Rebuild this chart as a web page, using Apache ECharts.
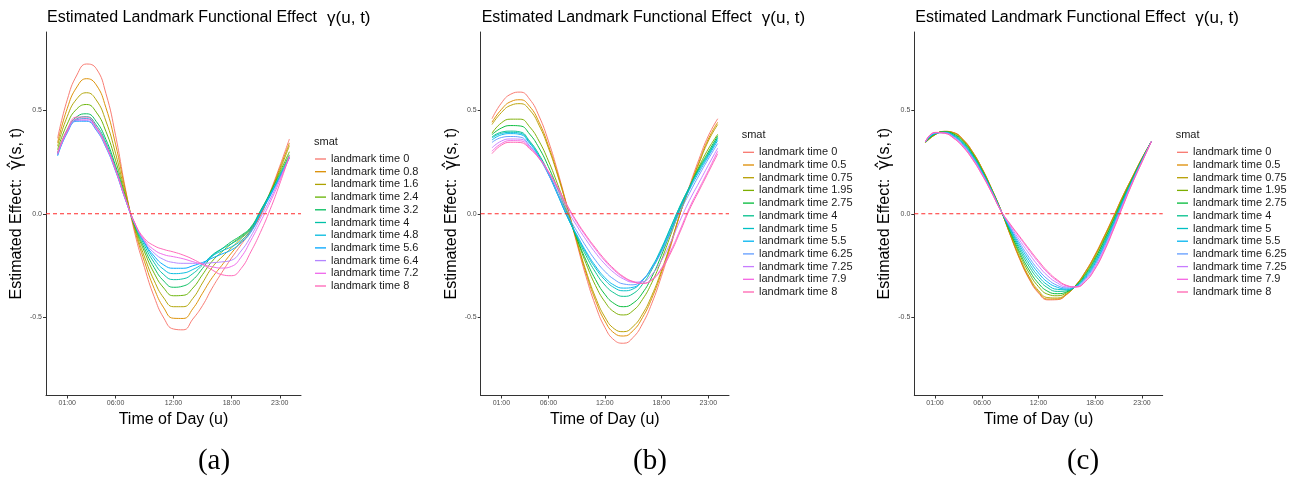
<!DOCTYPE html>
<html>
<head>
<meta charset="utf-8">
<script src="https://cdn.jsdelivr.net/npm/echarts@6/dist/echarts.min.js"></script>
<style>
html,body{margin:0;padding:0;background:#fff;}
#chart{width:1292px;height:479px;}
</style>
</head>
<body>
<div id="chart"></div>
<script>
// ---------- data ----------
const hours = [0,1,2,3,4,5,6,7,8,9,10,11,12,13,14,15,16,17,18,19,20,21,22,23,24];
const xTickValues = [1,6,12,18,23];
const xTickLabels = ['01:00','06:00','12:00','18:00','23:00'];
const yTickValues = [-0.5,0,0.5];
const yTickLabels = ['-0.5','0.0','0.5'];
const referenceLevel = 0;

const landmarksA = ['0','0.8','1.6','2.4','3.2','4','4.8','5.6','6.4','7.2','8'];
const landmarksBC = ['0','0.5','0.75','1.95','2.75','4','5','5.5','6.25','7.25','7.9','8'];

const colorsA = ['#F8766D','#DB8E00','#AEA200','#64B200','#00BD5C','#00C1A7','#00BADE','#00A6FF','#B385FF','#EF67EB','#FF63B6'];
const colorsBC = ['#F8766D','#DE8C00','#B79F00','#7CAE00','#00BA38','#00C08B','#00BFC4','#00B4F0','#619CFF','#C77CFF','#F564E3','#FF64B0'];

// panel (a)
const panelA = [
  [0.365,0.552,0.672,0.725,0.703,0.583,0.38,0.126,-0.095,-0.261,-0.402,-0.505,-0.558,-0.562,-0.51,-0.445,-0.36,-0.285,-0.215,-0.15,-0.085,-0.01,0.105,0.23,0.362],
  [0.343,0.51,0.614,0.654,0.624,0.514,0.337,0.118,-0.08,-0.232,-0.362,-0.456,-0.506,-0.507,-0.46,-0.385,-0.31,-0.25,-0.19,-0.135,-0.08,-0.005,0.1,0.22,0.343],
  [0.327,0.471,0.557,0.586,0.551,0.449,0.293,0.102,-0.072,-0.209,-0.324,-0.408,-0.45,-0.45,-0.41,-0.335,-0.26,-0.21,-0.165,-0.12,-0.075,0.005,0.1,0.21,0.33],
  [0.31,0.435,0.508,0.529,0.492,0.399,0.259,0.09,-0.064,-0.185,-0.288,-0.36,-0.397,-0.395,-0.36,-0.295,-0.23,-0.185,-0.145,-0.11,-0.07,0.01,0.1,0.2,0.30],
  [0.295,0.407,0.47,0.484,0.447,0.36,0.233,0.081,-0.058,-0.169,-0.261,-0.326,-0.356,-0.35,-0.32,-0.265,-0.205,-0.17,-0.135,-0.105,-0.065,0.015,0.1,0.19,0.285],
  [0.29,0.40,0.46,0.47,0.43,0.345,0.222,0.077,-0.053,-0.154,-0.237,-0.295,-0.319,-0.315,-0.29,-0.248,-0.2,-0.17,-0.145,-0.115,-0.07,0.01,0.095,0.18,0.275],
  [0.285,0.397,0.455,0.461,0.419,0.334,0.215,0.074,-0.049,-0.142,-0.219,-0.27,-0.29,-0.287,-0.27,-0.243,-0.205,-0.18,-0.16,-0.13,-0.08,0.005,0.09,0.18,0.272],
  [0.28,0.392,0.448,0.448,0.405,0.322,0.207,0.071,-0.05,-0.14,-0.205,-0.248,-0.264,-0.264,-0.252,-0.236,-0.215,-0.195,-0.175,-0.14,-0.09,0.0,0.085,0.175,0.27],
  [0.285,0.395,0.451,0.451,0.408,0.325,0.21,0.072,-0.05,-0.135,-0.19,-0.222,-0.236,-0.24,-0.24,-0.24,-0.237,-0.233,-0.225,-0.18,-0.11,-0.02,0.07,0.17,0.275],
  [0.29,0.40,0.458,0.458,0.413,0.329,0.213,0.075,-0.048,-0.128,-0.175,-0.198,-0.208,-0.218,-0.232,-0.245,-0.257,-0.263,-0.255,-0.21,-0.13,-0.04,0.055,0.16,0.275],
  [0.295,0.408,0.468,0.468,0.421,0.335,0.217,0.078,-0.045,-0.12,-0.155,-0.173,-0.185,-0.2,-0.22,-0.245,-0.272,-0.295,-0.30,-0.265,-0.185,-0.09,0.02,0.145,0.28]
];

// panel (b)
const panelB = [
  [0.46,0.536,0.579,0.589,0.555,0.473,0.352,0.202,0.034,-0.14,-0.304,-0.444,-0.55,-0.612,-0.627,-0.599,-0.533,-0.433,-0.305,-0.158,0.0,0.135,0.263,0.377,0.46],
  [0.443,0.505,0.543,0.552,0.52,0.444,0.33,0.19,0.032,-0.132,-0.287,-0.419,-0.519,-0.578,-0.592,-0.566,-0.503,-0.409,-0.288,-0.149,0.0,0.128,0.249,0.362,0.443],
  [0.432,0.49,0.525,0.533,0.503,0.429,0.319,0.183,0.031,-0.127,-0.277,-0.404,-0.5,-0.557,-0.571,-0.546,-0.486,-0.395,-0.278,-0.144,0.0,0.124,0.242,0.352,0.432],
  [0.39,0.44,0.458,0.458,0.421,0.352,0.256,0.14,0.013,-0.118,-0.241,-0.347,-0.426,-0.476,-0.49,-0.469,-0.415,-0.333,-0.226,-0.103,0.022,0.128,0.227,0.314,0.385],
  [0.383,0.415,0.427,0.425,0.386,0.319,0.228,0.119,0.0,-0.117,-0.225,-0.318,-0.39,-0.435,-0.45,-0.433,-0.384,-0.305,-0.203,-0.086,0.03,0.128,0.22,0.299,0.378],
  [0.372,0.395,0.40,0.396,0.352,0.287,0.2,0.098,-0.01,-0.11,-0.203,-0.283,-0.345,-0.384,-0.40,-0.387,-0.342,-0.27,-0.176,-0.068,0.038,0.131,0.216,0.29,0.37],
  [0.367,0.389,0.394,0.39,0.346,0.28,0.194,0.092,-0.014,-0.105,-0.19,-0.263,-0.32,-0.358,-0.373,-0.364,-0.324,-0.257,-0.168,-0.065,0.037,0.127,0.21,0.285,0.365],
  [0.357,0.382,0.388,0.384,0.341,0.276,0.191,0.09,-0.013,-0.1,-0.182,-0.253,-0.309,-0.346,-0.36,-0.356,-0.322,-0.262,-0.18,-0.08,0.025,0.117,0.2,0.277,0.355],
  [0.345,0.369,0.374,0.371,0.33,0.27,0.19,0.096,-0.003,-0.083,-0.158,-0.225,-0.279,-0.318,-0.34,-0.344,-0.319,-0.265,-0.187,-0.092,0.01,0.10,0.185,0.265,0.34],
  [0.319,0.352,0.362,0.361,0.326,0.272,0.2,0.114,0.019,-0.057,-0.126,-0.189,-0.243,-0.286,-0.316,-0.331,-0.329,-0.294,-0.228,-0.138,-0.033,0.065,0.15,0.235,0.318],
  [0.303,0.34,0.354,0.353,0.321,0.272,0.205,0.125,0.036,-0.042,-0.11,-0.172,-0.228,-0.274,-0.309,-0.33,-0.337,-0.318,-0.265,-0.181,-0.078,0.03,0.12,0.21,0.303],
  [0.291,0.332,0.346,0.345,0.315,0.268,0.204,0.127,0.041,-0.036,-0.104,-0.165,-0.221,-0.268,-0.305,-0.328,-0.337,-0.321,-0.27,-0.19,-0.088,0.02,0.11,0.2,0.29]
];

// panel (c)
const panelC = [
  [0.345,0.382,0.399,0.393,0.359,0.3,0.22,0.124,0.018,-0.104,-0.22,-0.316,-0.384,-0.417,-0.416,-0.391,-0.344,-0.279,-0.199,-0.107,-0.01,0.09,0.18,0.27,0.35],
  [0.345,0.382,0.399,0.392,0.358,0.299,0.219,0.123,0.018,-0.102,-0.217,-0.312,-0.379,-0.413,-0.413,-0.39,-0.344,-0.28,-0.201,-0.109,-0.012,0.088,0.179,0.269,0.35],
  [0.345,0.383,0.398,0.391,0.356,0.297,0.217,0.122,0.018,-0.1,-0.211,-0.304,-0.372,-0.406,-0.408,-0.387,-0.345,-0.283,-0.205,-0.113,-0.015,0.086,0.178,0.268,0.35],
  [0.346,0.384,0.397,0.387,0.352,0.292,0.214,0.12,0.017,-0.093,-0.198,-0.287,-0.353,-0.39,-0.397,-0.382,-0.346,-0.289,-0.213,-0.122,-0.023,0.08,0.174,0.266,0.35],
  [0.347,0.386,0.396,0.385,0.348,0.289,0.21,0.118,0.017,-0.088,-0.187,-0.272,-0.337,-0.376,-0.387,-0.378,-0.347,-0.294,-0.22,-0.129,-0.029,0.075,0.171,0.264,0.35],
  [0.347,0.387,0.395,0.381,0.343,0.284,0.207,0.116,0.017,-0.081,-0.174,-0.255,-0.318,-0.359,-0.376,-0.373,-0.349,-0.3,-0.228,-0.138,-0.037,0.069,0.167,0.262,0.35],
  [0.348,0.388,0.394,0.378,0.34,0.28,0.203,0.114,0.016,-0.076,-0.163,-0.24,-0.303,-0.346,-0.366,-0.368,-0.35,-0.304,-0.235,-0.145,-0.043,0.064,0.164,0.26,0.35],
  [0.348,0.389,0.393,0.376,0.336,0.276,0.2,0.112,0.016,-0.071,-0.152,-0.225,-0.287,-0.332,-0.356,-0.364,-0.351,-0.309,-0.242,-0.153,-0.05,0.059,0.161,0.258,0.35],
  [0.349,0.391,0.393,0.373,0.332,0.273,0.197,0.11,0.016,-0.065,-0.141,-0.211,-0.272,-0.318,-0.347,-0.359,-0.352,-0.314,-0.249,-0.16,-0.056,0.054,0.158,0.256,0.35],
  [0.349,0.392,0.391,0.369,0.328,0.268,0.193,0.107,0.015,-0.059,-0.128,-0.193,-0.253,-0.302,-0.335,-0.354,-0.353,-0.32,-0.257,-0.169,-0.064,0.048,0.155,0.253,0.35],
  [0.35,0.393,0.39,0.366,0.324,0.264,0.19,0.105,0.015,-0.053,-0.115,-0.177,-0.236,-0.287,-0.325,-0.349,-0.354,-0.326,-0.265,-0.177,-0.071,0.042,0.151,0.251,0.35],
  [0.35,0.394,0.39,0.365,0.322,0.262,0.188,0.104,0.015,-0.05,-0.11,-0.17,-0.228,-0.28,-0.32,-0.347,-0.355,-0.328,-0.268,-0.181,-0.074,0.04,0.15,0.25,0.35]
];

const panelTitle = 'Estimated Landmark Functional Effect';
const panelTitleMath = 'γ(u, t)';
const xName = 'Time of Day (u)';
const yNameText = 'Estimated Effect:  ';
const yNameMath = 'γ\u0302';
const yNameTail = '(s, t)';
const legendTitle = 'smat';
const panelLabels = ['(a)','(b)','(c)'];

// ---------- layout ----------
const FONT = 'Liberation Sans, Arial, Helvetica, sans-serif';
const X_MIN = -1.2, X_MAX = 25.2, Y_MIN = -0.88, Y_MAX = 0.88;
const grids = [
  {left: 46, top: 32, width: 255, height: 363.5},
  {left: 480.7, top: 32, width: 248.3, height: 363.5},
  {left: 914.3, top: 32, width: 248.4, height: 363.5}
];
const legendPos = [
  {keyX: 315, titleX: 314, firstY: 159},
  {keyX: 743, titleX: 741.7, firstY: 152.3},
  {keyX: 1177, titleX: 1175.7, firstY: 152.3}
];
const panelLabelX = [214, 650, 1083];
const ITEM_H = 12.7;

const panels = [
  {values: panelA, names: landmarksA, colors: colorsA, suffix: ''},
  {values: panelB, names: landmarksBC, colors: colorsBC, suffix: '\u200b'},
  {values: panelC, names: landmarksBC, colors: colorsBC, suffix: '\u200b\u200b'}
];

const xAxes = [], yAxes = [], series = [], legends = [], titles = [];

panels.forEach((p, gi) => {
  xAxes.push({
    type: 'value', gridIndex: gi, min: X_MIN, max: X_MAX,
    axisLine: {show: true, onZero: false, lineStyle: {color: '#333', width: 1}},
    axisTick: {show: true, customValues: xTickValues, length: 3, lineStyle: {color: '#333', width: 1}},
    axisLabel: {show: true, customValues: xTickValues, margin: 4, fontSize: 7, color: '#4d4d4d', fontFamily: FONT,
      formatter: v => xTickLabels[xTickValues.indexOf(v)] || ''},
    splitLine: {show: false},
    name: xName, nameLocation: 'middle', nameGap: 11,
    nameTextStyle: {fontSize: 16, color: '#000', fontFamily: FONT}
  });
  yAxes.push({
    type: 'value', gridIndex: gi, min: Y_MIN, max: Y_MAX,
    axisLine: {show: true, onZero: false, lineStyle: {color: '#333', width: 1}},
    axisTick: {show: true, customValues: yTickValues, length: 3, lineStyle: {color: '#333', width: 1}},
    axisLabel: {show: true, customValues: yTickValues, margin: 4, fontSize: 7, color: '#4d4d4d', fontFamily: FONT,
      formatter: v => { const i = yTickValues.findIndex(t => Math.abs(t - v) < 1e-9); return i >= 0 ? yTickLabels[i] : ''; }},
    splitLine: {show: false},
    name: '{t|' + yNameText + '}{g|' + yNameMath + '}{t|' + yNameTail + '}',
    nameLocation: 'middle', nameGap: 21,
    nameTextStyle: {fontSize: 16, color: '#000', fontFamily: FONT, rich: {
      t: {fontSize: 16, color: '#000', fontFamily: FONT},
      g: {fontSize: 17, color: '#000', fontFamily: 'DejaVu Sans, Noto Sans, sans-serif'}
    }}
  });
  const legendData = [];
  p.values.forEach((vals, si) => {
    const nm = 'landmark time ' + p.names[si] + p.suffix;
    legendData.push(nm);
    series.push({
      type: 'line', name: nm, xAxisIndex: gi, yAxisIndex: gi,
      data: hours.map((h, i) => [h, vals[i]]),
      showSymbol: false, symbol: 'none', smooth: 0.5,
      lineStyle: {color: p.colors[si], width: 1, opacity: 0.95},
      itemStyle: {color: p.colors[si]},
      emphasis: {disabled: true}, silent: true, animation: false
    });
  });
  // dashed reference line at zero
  series.push({
    type: 'line', name: 'zero-ref-' + gi, xAxisIndex: gi, yAxisIndex: gi,
    data: [[X_MIN, referenceLevel], [X_MAX, referenceLevel]],
    showSymbol: false, symbol: 'none', silent: true, animation: false,
    lineStyle: {color: '#ff2b2b', type: [4, 3], width: 1.2, opacity: 1},
    itemStyle: {color: '#ff2b2b'}, emphasis: {disabled: true}, z: 5
  });
  const L = legendPos[gi];
  legends.push({
    orient: 'vertical', left: L.keyX, top: L.firstY - ITEM_H / 2, padding: 0,
    data: legendData, icon: 'rect', itemWidth: 11, itemHeight: 1.3, itemGap: 0,
    selectedMode: false,
    formatter: n => n.replace(/\u200b/g, ''),
    textStyle: {fontSize: 11, color: '#1a1a1a', fontFamily: FONT, lineHeight: ITEM_H}
  });
  titles.push({
    text: '{t|' + panelTitle + '}  {m|' + panelTitleMath + '}',
    left: grids[gi].left + 1, top: 9, padding: 0,
    textStyle: {fontWeight: 'normal', rich: {
      t: {fontSize: 16, fontWeight: 'normal', color: '#000', fontFamily: FONT},
      m: {fontSize: 17, fontWeight: 'normal', color: '#000', fontFamily: FONT}
    }}
  });
  titles.push({
    text: legendTitle, left: L.titleX, top: L.firstY - 23, padding: 0,
    textStyle: {fontSize: 11, fontWeight: 'normal', color: '#1a1a1a', fontFamily: FONT}
  });
  titles.push({
    text: panelLabels[gi], left: panelLabelX[gi], top: 447, padding: 0, textAlign: 'center',
    textStyle: {fontSize: 29, fontWeight: 'normal', color: '#000', fontFamily: 'Liberation Serif, Times New Roman, serif'}
  });
});

const chart = echarts.init(document.getElementById('chart'), null, {renderer: 'canvas'});
chart.setOption({
  animation: false,
  backgroundColor: '#fff',
  title: titles,
  grid: grids,
  xAxis: xAxes,
  yAxis: yAxes,
  legend: legends,
  series: series
});
</script>
</body>
</html>
